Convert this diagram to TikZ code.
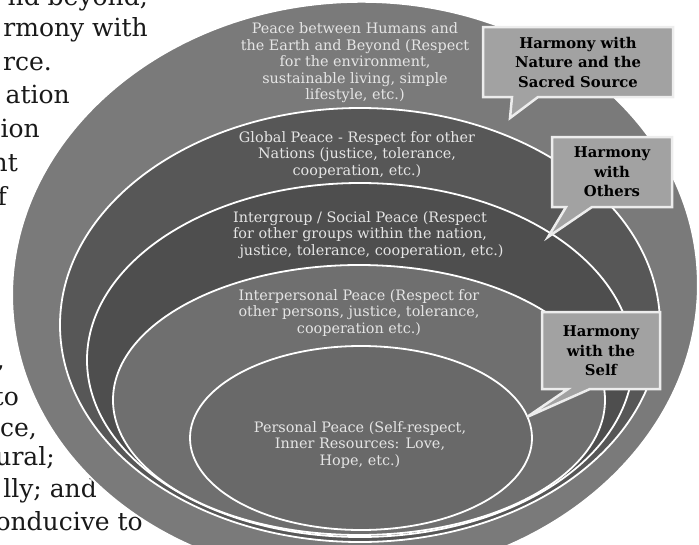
\documentclass[tikz,border=0pt]{standalone}
\usepackage{fontspec}
\setmainfont{DejaVu Serif}
\definecolor{ringA}{HTML}{7A7A7A}
\definecolor{ringB}{HTML}{575757}
\definecolor{ringC}{HTML}{4E4E4E}
\definecolor{ringD}{HTML}{6F6F6F}
\definecolor{ringE}{HTML}{696969}
\definecolor{boxgray}{HTML}{A2A2A2}
\begin{document}
\begin{tikzpicture}[x=1pt,y=-1pt,
    ring/.style={draw=white,line width=1.8pt},
    ringtext/.style={align=center,text=white!90!black,inner sep=0pt,font=\fontsize{14.4}{16.5}\selectfont},
    bodytext/.style={anchor=base east,inner sep=0pt,text=black!90,font=\fontsize{25}{33}\selectfont},
    callout/.style={fill=boxgray,draw=white!93!black,line width=2.5pt},
    calltext/.style={align=center,inner sep=0pt,font=\bfseries\fontsize{14.8}{19.5}\selectfont}]
  \useasboundingbox (0,0) rectangle (699,544);
  \clip (0,0) rectangle (699,544);
  \node[bodytext] (b1) at (148,5) {nd beyond,};
  \node[bodytext] (b2) at (148,36) {rmony with};
  \node[bodytext] (b3) at (52,70) {rce.};
  \node[bodytext] (b4) at (70,103) {ation};
  \node[bodytext] (b5) at (40,137) {ion};
  \node[bodytext] (b6) at (18,171) {nt};
  \node[bodytext] (b7) at (7,205) {f};
  \node[bodytext] (b8) at (5,368) {,};
  \node[bodytext] (b9) at (19,405) {to};
  \node[bodytext] (b10) at (37,436) {ce,};
  \node[bodytext] (b11) at (55,465) {ural;};
  \node[bodytext] (b12) at (97,497) {lly; and};
  \node[bodytext] (b13) at (143,530) {onducive to};
  \draw[ring,fill=ringA,rotate around={3:(355,290)}] (355,290) ellipse [x radius=343pt,y radius=288pt];
  \draw[ring,fill=ringB] (360,325) ellipse [x radius=300pt,y radius=217pt];
  \draw[ring,fill=ringC] (360,360) ellipse [x radius=273pt,y radius=177pt];
  \draw[ring,fill=ringD] (359,400) ellipse [x radius=246pt,y radius=135pt];
  \draw[ring,fill=ringE] (361,438) ellipse [x radius=171pt,y radius=92pt];
  \node[ringtext] (earth) at (355,63) {Peace between Humans and\\the Earth and Beyond (Respect\\for the environment,\\sustainable living, simple\\lifestyle, etc.)};
  \node[ringtext] (global) at (357,155) {Global Peace - Respect for other\\Nations (justice, tolerance,\\cooperation, etc.)};
  \node[ringtext] (social) at (360,235) {Intergroup / Social Peace (Respect\\for other groups within the nation,\\\hspace*{1.6em}justice, tolerance, cooperation, etc.)};
  \node[ringtext] (interpersonal) at (359,313) {Interpersonal Peace (Respect for\\other persons, justice, tolerance,\\cooperation etc.)};
  \node[ringtext] (personal) at (360,445) {Personal Peace (Self-respect,\\Inner Resources: Love,\\Hope, etc.)};
  \coordinate (naturetip) at (510,118);
  \coordinate (otherstip) at (548,237);
  \coordinate (selftip) at (527,417);
  \draw[callout] (483,27) -- (673,27) -- (673,97) -- (538,97) -- (naturetip) -- (512,97) -- (483,97) -- cycle;
  \draw[callout] (552,137) -- (672,137) -- (672,207) -- (592,207) -- (otherstip) -- (566,207) -- (552,207) -- cycle;
  \draw[callout] (542,312) -- (660,312) -- (660,389) -- (590,389) -- (selftip) -- (568,389) -- (542,389) -- cycle;
  \node[calltext] (nature) at (578,62) {Harmony with\\Nature and the\\Sacred Source};
  \node[calltext] (others) at (612,172) {Harmony\\with\\Others};
  \node[calltext] (self) at (601,351) {Harmony\\with the\\Self};
\end{tikzpicture}
\end{document}
